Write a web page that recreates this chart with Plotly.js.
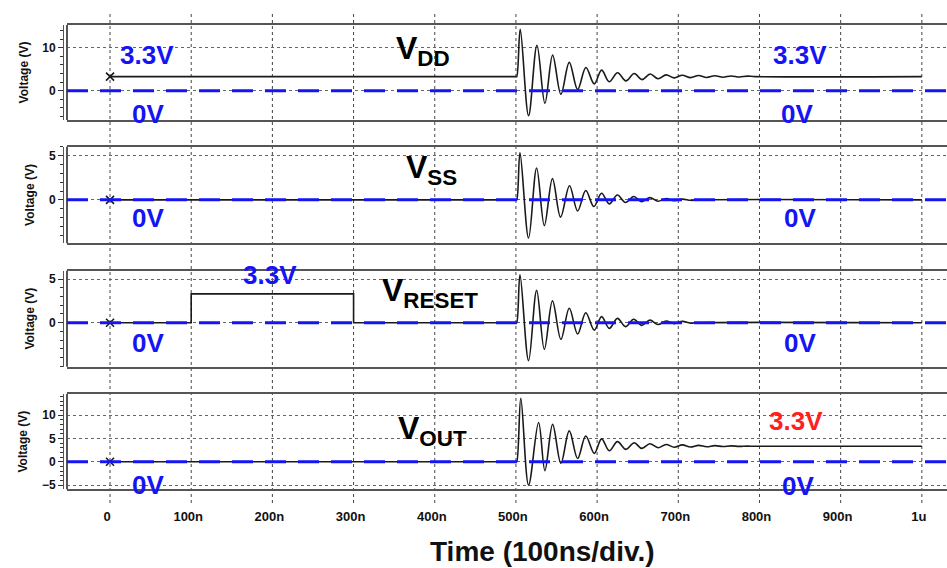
<!DOCTYPE html>
<html>
<head>
<meta charset="utf-8">
<script src="https://cdn.plot.ly/plotly-3.0.1.min.js"></script>
<style>html,body{margin:0;padding:0;background:#fff;}#chart{width:947px;height:568px;}</style>
</head>
<body>
<div id="chart"></div>
<script>
// ---- data (time in ns, voltage in V) ----
const timeTicks = [0, 100, 200, 300, 400, 500, 600, 700, 800, 900, 1000];
const timeTickText = ['0', '100n', '200n', '300n', '400n', '500n', '600n', '700n', '800n', '900n', '1u'];
const zeroLevel = 0;

const vddFlatT = [0, 500];
const vddFlatV = [3.3, 3.3];
const vddRingT = [500, 501, 505.3, 515.6, 525.9, 535.7, 545.2, 555.4, 565.7, 576, 586.2, 596.5, 605.5, 614.9, 625.2, 635.5, 645.7, 655.2, 665.4, 675, 685, 695, 705, 715, 725, 735, 745, 755, 765, 775, 785, 795, 1000];
const vddRingV = [3.3, 3.3, 14.3, -5.8, 10.6, -2.9, 8.3, -0.8, 6.6, 0.3, 5.4, 1.6, 4.8, 2.1, 4.2, 2.3, 4.0, 2.6, 3.9, 2.8, 3.7, 3.0, 3.6, 3.05, 3.55, 3.1, 3.5, 3.15, 3.45, 3.2, 3.4, 3.3, 3.3];

const vssFlatT = [0, 500];
const vssFlatV = [0, 0];
const vssRingT = [500, 501, 505, 515.6, 525.5, 535, 545, 555, 566, 576, 586, 596, 605.5, 615, 625, 635, 645, 655, 665, 675, 685, 695, 705, 715, 725, 1000];
const vssRingV = [0, 0, 5.3, -4.3, 3.6, -2.9, 2.4, -1.95, 1.6, -1.25, 1.05, -0.75, 0.75, -0.45, 0.55, -0.3, 0.38, -0.2, 0.25, -0.15, 0.15, -0.1, 0.08, -0.05, 0, 0];

const resetFlatT = [0, 100, 100, 300, 300, 500];
const resetFlatV = [0, 0, 3.3, 3.3, 0, 0];
const resetRingT = [500, 501, 505, 515.6, 525.5, 535, 545, 555.4, 565.7, 576, 586, 596.5, 605.5, 615, 625, 635, 645, 655, 665, 675, 685, 695, 705, 715, 725, 1000];
const resetRingV = [0, 0, 5.5, -4.35, 3.7, -3.05, 2.5, -1.9, 1.65, -1.3, 1.15, -0.85, 0.7, -0.65, 0.5, -0.45, 0.4, -0.3, 0.3, -0.2, 0.2, -0.1, 0.15, -0.05, 0, 0];

const voutFlatT = [0, 500];
const voutFlatV = [0, 0];
const voutRingT = [500, 501, 506, 515.6, 527.9, 535.7, 545.2, 555.4, 565.7, 576, 586, 596.5, 605.5, 615, 625, 635.5, 645.7, 655, 665, 675, 685, 695, 705, 715, 725, 735, 745, 755, 765, 775, 785, 795, 1000];
const voutRingV = [0, 0, 13.6, -5.0, 8.4, -1.9, 8.0, -0.3, 6.6, 0.7, 5.5, 1.8, 4.9, 2.35, 4.3, 2.65, 4.05, 2.85, 3.85, 3.0, 3.7, 3.1, 3.6, 3.15, 3.5, 3.2, 3.45, 3.25, 3.4, 3.28, 3.35, 3.3, 3.3];

// ---- styling ----
const FONT = 'Liberation Sans, Arial, sans-serif';
const BLACK = '#1a1a1a';
const BLUE = '#1414f5';
const RED = '#ff1f1f';
const FRAME = '#555555';

const panels = [
  {flatT: vddFlatT, flatV: vddFlatV, ringT: vddRingT, ringV: vddRingV},
  {flatT: vssFlatT, flatV: vssFlatV, ringT: vssRingT, ringV: vssRingV},
  {flatT: resetFlatT, flatV: resetFlatV, ringT: resetRingT, ringV: resetRingV},
  {flatT: voutFlatT, flatV: voutFlatV, ringT: voutRingT, ringV: voutRingV}
];

const traces = [];
panels.forEach((p, i) => {
  const xa = i === 0 ? 'x' : 'x' + (i + 1);
  const ya = i === 0 ? 'y' : 'y' + (i + 1);
  traces.push({x: p.flatT, y: p.flatV, xaxis: xa, yaxis: ya, mode: 'lines', line: {color: BLACK, width: 1.6}, hoverinfo: 'skip'});
  traces.push({x: p.ringT, y: p.ringV, xaxis: xa, yaxis: ya, mode: 'lines', line: {color: BLACK, width: 1.6, shape: 'spline', smoothing: 1}, hoverinfo: 'skip'});
  traces.push({x: [p.flatT[0]], y: [p.flatV[0]], xaxis: xa, yaxis: ya, mode: 'markers', marker: {symbol: 'x-thin', size: 8, line: {color: BLACK, width: 1.6}}, hoverinfo: 'skip'});
});

const W = 947, H = 568;
const xDomain = [67 / W, 1];
const yPos = 63 / W;
const yDomains = [
  [1 - 120 / H, 1 - 25 / H],
  [1 - 243.3 / H, 1 - 146.7 / H],
  [1 - 366.7 / H, 1 - 270.7 / H],
  [1 - 489.3 / H, 1 - 394 / H]
];
const yRanges = [[-6.8, 15.3], [-4.9, 6.0], [-5.04, 5.96], [-5.9, 14.5]];
const yTickVals = [[0, 10], [0, 5], [0, 5], [-5, 0, 5, 10]];
const yMinorStep = [2, 1, 1, 1];

const layout = {
  width: W, height: H,
  margin: {l: 0, r: 0, t: 0, b: 0},
  paper_bgcolor: '#ffffff',
  plot_bgcolor: 'rgba(0,0,0,0)',
  showlegend: false,
  font: {family: FONT, color: '#111'},
  shapes: [],
  annotations: []
};

for (let i = 0; i < 4; i++) {
  const s = i === 0 ? '' : String(i + 1);
  const xa = {
    domain: xDomain, range: [-53, 1031], anchor: 'y' + s,
    showgrid: false, zeroline: false, showline: true, mirror: true,
    linecolor: FRAME, linewidth: 2, ticks: '', showticklabels: false, fixedrange: true
  };
  if (i === 3) {
    xa.showticklabels = true;
    xa.tickmode = 'array';
    xa.tickvals = timeTicks;
    xa.ticktext = timeTickText;
    xa.tickfont = {family: FONT, size: 13, weight: 'bold', color: '#111'};
    xa.ticklabelstandoff = 14;
    xa.ticklabelshift = -3;
  }
  layout['xaxis' + s] = xa;
  layout['yaxis' + s] = {
    domain: yDomains[i], range: yRanges[i], anchor: 'free', position: yPos,
    tickmode: 'array', tickvals: yTickVals[i],
    ticks: 'outside', ticklen: 5, tickwidth: 1, tickcolor: '#333',
    showline: true, linecolor: '#555', linewidth: 1,
    showgrid: true, griddash: 'dot', gridcolor: '#666', gridwidth: 1,
    zeroline: false, fixedrange: true,
    minor: {tickmode: 'linear', tick0: 0, dtick: yMinorStep[i], ticks: 'outside', ticklen: 3, tickcolor: '#333', showgrid: false},
    tickfont: {family: FONT, size: 12, weight: 'bold', color: '#111'},
    title: {text: 'Voltage (V)', font: {family: FONT, size: 12, weight: 'bold', color: '#111'}, standoff: 10}
  };
  // left frame edge
  layout.shapes.push({type: 'line', xref: 'x' + s + ' domain', yref: 'y' + s + ' domain', x0: 0, x1: 0, y0: 0, y1: 1, line: {color: FRAME, width: 2}});
  // blue 0V reference
  layout.shapes.push({type: 'line', xref: 'x' + s + ' domain', yref: 'y' + s, x0: 0, x1: 1, y0: zeroLevel, y1: zeroLevel, line: {color: BLUE, width: 3, dash: '21px,12px'}, layer: 'above'});
}

// vertical dotted time gridlines running through all panels
timeTicks.forEach(t => {
  layout.shapes.push({type: 'line', xref: 'x4', yref: 'paper', x0: t, x1: t, y0: 1 - 503 / H, y1: 1 - 12 / H, line: {color: '#444', width: 1, dash: 'dot'}, layer: 'below'});
});

function ann(text, px, py, size, color) {
  layout.annotations.push({text: text, xref: 'paper', yref: 'paper', x: px / W, y: 1 - py / H, xanchor: 'center', yanchor: 'middle', showarrow: false, font: {family: FONT, size: size, color: color, weight: 'bold'}});
}
// x-axis title (centred as in the reference, right of the plot-area centre)
ann('Time (100ns/div.)', 542, 551, 28, '#111');
// Panel 1
ann('3.3V', 147, 55, 26, BLUE);
ann('0V', 148, 114, 26, BLUE);
ann('3.3V', 800, 55, 26, BLUE);
ann('0V', 797, 114, 26, BLUE);
ann('V<sub>DD</sub>', 423, 50, 32, '#000');
// Panel 2
ann('0V', 148, 218, 26, BLUE);
ann('0V', 800, 218, 26, BLUE);
ann('V<sub>SS</sub>', 431, 170, 32, '#000');
// Panel 3
ann('3.3V', 269.5, 275, 26, BLUE);
ann('0V', 148, 343, 26, BLUE);
ann('0V', 800, 343, 26, BLUE);
ann('V<sub>RESET</sub>', 430, 292, 32, '#000');
// Panel 4
ann('V<sub>OUT</sub>', 432, 430, 32, '#000');
ann('3.3V', 796, 421, 26, RED);
ann('0V', 148, 485, 26, BLUE);
ann('0V', 798, 486, 26, BLUE);

Plotly.newPlot('chart', traces, layout, {staticPlot: true, displayModeBar: false});
</script>
</body>
</html>
